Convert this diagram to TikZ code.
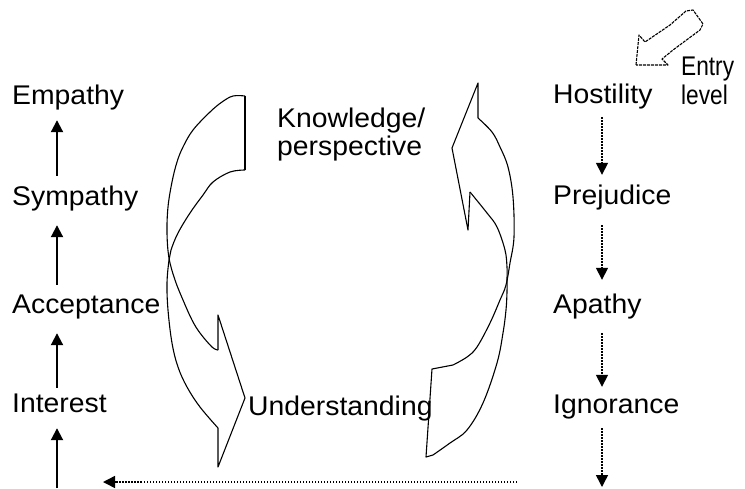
\documentclass[tikz,border=0pt]{standalone}
\usepackage{fontspec}
\usepackage{graphicx}
\setmainfont[FakeStretch=1.05]{Liberation Sans}
\usetikzlibrary{arrows.meta}
\begin{document}
\begin{tikzpicture}[x=1pt,y=-1pt,
  lbl/.style={anchor=base west, inner sep=0pt, font=\fontsize{27}{30}\selectfont, text height=20pt, text depth=6pt},
  uparr/.style={line width=2pt, -{Triangle[length=12pt,width=12pt]}},
  dnarr/.style={line width=1.5pt, dash pattern=on 1.5pt off 1.5pt, -{Triangle[length=12pt,width=12pt]}},
  ribbon/.style={line width=1.1pt, line join=round},
  entryarr/.style={line width=1.1pt, dash pattern=on 3pt off 1pt, line join=round},
]
\useasboundingbox (0,0) rectangle (745,488);

% labels
\node[lbl] (emp) at (12,104) {Empathy};
\node[lbl] (symp) at (12,205) {Sympathy};
\node[lbl] (acc) at (12,313) {Acceptance};
\node[lbl] (int) at (12,412) {Interest};
\node[lbl] (host) at (553,103) {Hostility};
\node[lbl] (prej) at (553,204) {Prejudice};
\node[lbl] (apa) at (553,313) {Apathy};
\node[lbl] (ign) at (553,413) {Ignorance};
\node[lbl] (ent) at (681,75) {\scalebox{0.8}[1]{Entry}};
\node[lbl] (lev) at (681,104) {\scalebox{0.8}[1]{level}};
\node[lbl] (know) at (277,127) {Knowledge/};
\node[lbl] (persp) at (277,155) {perspective};
\node[lbl] (und) at (248,415) {Understanding};

\coordinate (lx) at (57,0);
\coordinate (rx) at (602,0);
\coordinate (lb) at (57,488);
\coordinate (rb) at (602,487);
\coordinate (hs) at (517,482);
\coordinate (he) at (103,482);

% left column (solid, upward)
\draw[uparr, shorten <=9pt, shorten >=10pt] (symp.north -| lx) -- (emp.south -| lx);
\draw[uparr, shorten <=8pt, shorten >=14pt] (acc.north -| lx) -- (symp.south -| lx);
\draw[uparr, shorten <=4pt, shorten >=14pt] (int.north -| lx) -- (acc.south -| lx);
\draw[uparr, shorten >=10pt] (lb) -- (int.south -| lx);

% right column (dotted, downward)
\draw[dnarr, shorten <=8pt, shorten >=9pt] (host.south -| rx) -- (prej.north -| rx);
\draw[dnarr, shorten <=15pt, shorten >=13pt] (prej.south -| rx) -- (apa.north -| rx);
\draw[dnarr, shorten <=14pt, shorten >=6pt] (apa.south -| rx) -- (ign.north -| rx);
\draw[dnarr, shorten <=9pt] (ign.south -| rx) -- (rb);

% bottom return arrow
\draw[dnarr] (hs) -- (he);

% left curved ribbon arrow (tail at top, head at bottom)
\draw[ribbon] (245,96) -- (245,170);
\draw[ribbon] plot[smooth, tension=0.6] coordinates {(245,96) (233,96) (222,102) (210,112) (193,130) (183,147) (177,162) (172,182) (168,207) (167,233) (169,258) (175,280) (183,300) (192,320) (200,333) (212,347) (218,350)};
\draw[ribbon] plot[smooth, tension=0.6] coordinates {(245,170) (230,172) (213,182) (203,195) (190,213) (178,233) (171,250) (169,260) (167,283) (168,310) (172,343) (178,367) (187,387) (200,407) (218,428)};
\draw[ribbon] (218,350) -- (218,315) -- (245,398) -- (218,467) -- (218,428);

% right curved ribbon arrow (tail at bottom, head at top)
\draw[ribbon] (453,365) -- (432,369) -- (426,457) -- (433,455);
\draw[ribbon] plot[smooth, tension=0.6] coordinates {(433,455) (450,443) (467,430) (483,403) (497,363) (503,333) (506,310) (507,292) (507,279) (507,267) (505,250) (497,227) (487,213) (470,192)};
\draw[ribbon] plot[smooth, tension=0.6] coordinates {(453,365) (467,357) (477,347) (490,323) (500,300) (506,285) (510,263) (514,237) (513,197) (508,167) (500,147) (492,132) (478,118)};
\draw[ribbon] (470,192) -- (468,230) -- (452,148) -- (478,83) -- (478,118);

% entry arrow
\draw[entryarr] (636,65) -- (639,35) -- (645,42) -- (670,25) -- (686,11) -- (693,10) -- (703,24) -- (700,30) -- (673,50) -- (662,59) -- (668,65) -- cycle;
\end{tikzpicture}
\end{document}
